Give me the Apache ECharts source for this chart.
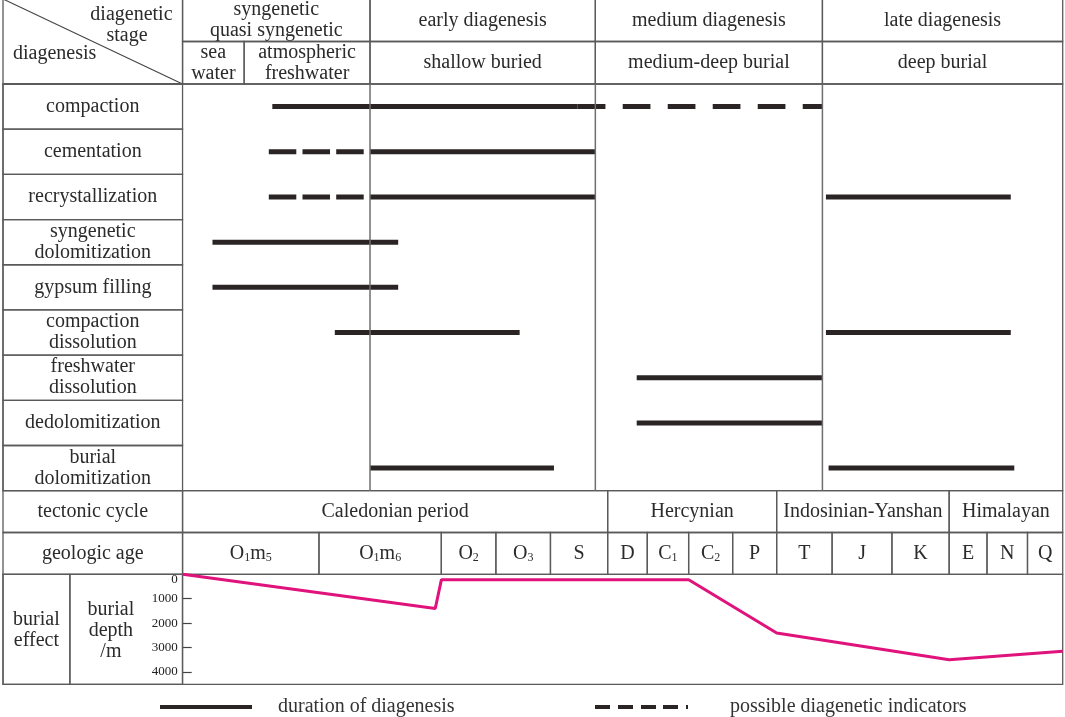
<!DOCTYPE html>
<html>
<head>
<meta charset="utf-8">
<script src="https://cdn.jsdelivr.net/npm/echarts@6/dist/echarts.min.js"></script>
<style>
  html, body { margin: 0; padding: 0; background: #fff; }
  #chart { width: 1065px; height: 717px; }
</style>
</head>
<body>
<div id="chart"></div>
<script>
// timeline runs 0..100 across the table; the label column sits left of 0
var LEFT = -20.4;
var DEPTH_MAX = 4500;

var stageBounds = [0, 21.3, 46.9, 72.7, 100];
var stages = ['syngenetic\nquasi syngenetic', 'early diagenesis', 'medium diagenesis', 'late diagenesis'];
var settingBounds = [0, 7.0, 21.3, 46.9, 72.7, 100];
var settings = ['sea\nwater', 'atmospheric\nfreshwater', 'shallow buried', 'medium-deep burial', 'deep burial'];

var processes = ['compaction', 'cementation', 'recrystallization', 'syngenetic\ndolomitization',
  'gypsum filling', 'compaction\ndissolution', 'freshwater\ndissolution', 'dedolomitization',
  'burial\ndolomitization'];

// [process index, start, end]
var durationSegs = [
  [0, 10.2, 44.9],
  [1, 21.3, 46.9],
  [2, 21.3, 46.9],
  [2, 73.1, 94.1],
  [3, 3.4, 24.5],
  [4, 3.4, 24.5],
  [5, 17.3, 38.3],
  [5, 73.1, 94.1],
  [6, 51.6, 72.7],
  [7, 51.6, 72.7],
  [8, 21.3, 42.2],
  [8, 73.4, 94.5]
];
var possibleSegs = [
  [0, 44.9, 72.7],
  [1, 9.8, 21.3],
  [2, 9.8, 21.3]
];

var tectonicBounds = [0, 48.3, 67.5, 87.1, 100];
var tectonics = ['Caledonian period', 'Hercynian', 'Indosinian-Yanshan', 'Himalayan'];
var ageBounds = [0, 15.5, 29.4, 35.6, 41.8, 48.3, 52.8, 57.5, 62.5, 67.5, 73.8, 80.6, 87.1, 91.4, 96.0, 100];
var ages = ['O1m5', 'O1m6', 'O2', 'O3', 'S', 'D', 'C1', 'C2', 'P', 'T', 'J', 'K', 'E', 'N', 'Q'];

var burialX = [0, 28.7, 29.4, 57.5, 67.5, 87.1, 100];
var burialDepth = [0, 1400, 220, 220, 2400, 3500, 3150];
var depthTicks = [0, 1000, 2000, 3000, 4000];

var burialLabels = [[LEFT, -12.8, 'burial\neffect'], [-12.8, 0, 'burial\ndepth\n/m']];

var FONT = '"Liberation Serif", "Times New Roman", serif';
var TEXT = '#2b2b2b';
var INK = '#2b2424';
var RULE = '#5a5a5a';

function sub(s) { return s.replace(/(\d)/g, '{s|$1}'); }

var headerCells = [];
stages.forEach(function (t, i) { headerCells.push([stageBounds[i], stageBounds[i + 1], 0, t]); });
settings.forEach(function (t, i) { headerCells.push([settingBounds[i], settingBounds[i + 1], 1, t]); });

var processCells = processes.map(function (p, i) { return [LEFT, 0, i, p]; });

var lowerCells = [[LEFT, 0, 0, 'tectonic cycle'], [LEFT, 0, 1, 'geologic age']];
tectonics.forEach(function (t, i) { lowerCells.push([tectonicBounds[i], tectonicBounds[i + 1], 0, t]); });
ages.forEach(function (t, i) { lowerCells.push([ageBounds[i], ageBounds[i + 1], 1, sub(t)]); });

function textStyle(txt, x, y, align) {
  return {
    text: txt, x: x, y: y, align: align || 'center', verticalAlign: 'middle',
    fontFamily: FONT, fontSize: 20, lineHeight: 21, fill: TEXT,
    rich: { s: { fontFamily: FONT, fontSize: 12, fill: TEXT, verticalAlign: 'bottom', lineHeight: 18 } }
  };
}

function cellSeries(idx, cells) {
  return {
    type: 'custom', xAxisIndex: idx, yAxisIndex: idx, silent: true, z: 2,
    data: cells.map(function (c) { return [c[0], c[1], c[2]]; }),
    encode: { x: [0, 1], y: 2 },
    renderItem: function (params, api) {
      var c = cells[params.dataIndex];
      var a = api.coord([c[0], c[2]]);
      var b = api.coord([c[1], c[2]]);
      var h = api.size([0, 1])[1];
      return {
        type: 'group',
        children: [
          { type: 'rect', shape: { x: a[0], y: a[1] - h / 2, width: b[0] - a[0], height: h },
            style: { fill: 'none', stroke: RULE, lineWidth: 1.3 } },
          { type: 'text', style: textStyle(c[3], (a[0] + b[0]) / 2, a[1]) }
        ]
      };
    }
  };
}

function segSeries(name, segs, dashed) {
  return {
    name: name, type: 'custom', xAxisIndex: 1, yAxisIndex: 1, silent: true, z: 4,
    itemStyle: { color: INK },
    data: segs,
    encode: { x: [1, 2], y: 0 },
    renderItem: function (params, api) {
      var row = api.value(0);
      var a = api.coord([api.value(1), row]);
      var b = api.coord([api.value(2), row]);
      var dash = null;
      if (dashed) dash = api.value(1) < stageBounds[1] ? [27.5, 6.2] : [27.7, 17.3];
      return {
        type: 'line',
        shape: { x1: a[0], y1: a[1], x2: b[0], y2: b[1] },
        style: { stroke: INK, lineWidth: 5, lineDash: dash, lineCap: 'butt' }
      };
    }
  };
}

var chart = echarts.init(document.getElementById('chart'));

// header starts just above the page edge: the table has no top rule
var grids = [
  { left: 3, right: 2.3, top: -1, height: 85 },
  { left: 3, right: 2.3, top: 84, height: 406.7, show: true, borderColor: RULE, borderWidth: 1.3 },
  { left: 3, right: 2.3, top: 490.7, height: 83.6 },
  { left: 3, right: 2.3, top: 574.3, height: 110, show: true, borderColor: RULE, borderWidth: 1.3 },
  { left: 182.7, right: 2.3, top: 574.3, height: 110 }
].map(function (g) { g.outerBoundsMode = 'none'; g.containLabel = false; return g; });

var xAxes = grids.map(function (g, i) {
  return { type: 'value', gridIndex: i, min: i === 4 ? 0 : LEFT, max: 100, show: false };
});

var yAxes = [
  { type: 'category', gridIndex: 0, data: ['stage', 'setting'], inverse: true, show: false },
  { type: 'category', gridIndex: 1, data: processes, inverse: true, show: false },
  { type: 'category', gridIndex: 2, data: ['tectonic', 'age'], inverse: true, show: false },
  { type: 'value', gridIndex: 3, min: 0, max: DEPTH_MAX, inverse: true, show: false },
  {
    type: 'value', gridIndex: 4, min: 0, max: DEPTH_MAX, interval: 1000, inverse: true,
    position: 'left',
    axisLine: { show: true, lineStyle: { color: RULE, width: 1.3 } },
    axisTick: { show: true, inside: true, length: 9, lineStyle: { color: '#444', width: 1.2 } },
    splitLine: { show: false },
    axisLabel: {
      show: true, showMaxLabel: false, showMinLabel: true, hideOverlap: false,
      margin: 5, fontFamily: FONT, fontSize: 13, color: '#222',
      formatter: function (v) { return v === 0 ? '{z|0}' : (depthTicks.indexOf(v) >= 0 ? String(v) : ''); },
      rich: { z: { fontFamily: FONT, fontSize: 13, color: '#222', padding: [10, 0, 0, 0] } }
    }
  }
];

var series = [
  // corner cell with diagonal
  {
    type: 'custom', xAxisIndex: 0, yAxisIndex: 0, silent: true, z: 2,
    data: [[LEFT, 0, 0]], encode: { x: [0, 1], y: 2 },
    renderItem: function (params, api) {
      var h = api.size([0, 1])[1];
      var tl = api.coord([LEFT, 0]);
      var br = api.coord([0, 1]);
      var x0 = tl[0], y0 = tl[1] - h / 2, x1 = br[0], y1 = br[1] + h / 2;
      return {
        type: 'group',
        children: [
          { type: 'rect', shape: { x: x0, y: y0, width: x1 - x0, height: y1 - y0 },
            style: { fill: 'none', stroke: RULE, lineWidth: 1.3 } },
          { type: 'line', shape: { x1: x0, y1: y0, x2: x1, y2: y1 },
            style: { stroke: '#444', lineWidth: 1.1 } },
          { type: 'text', style: textStyle('diagenetic', x1 - 10, y0 + 16, 'right') },
          { type: 'text', style: textStyle('stage', x0 + 124, y0 + 37) },
          { type: 'text', style: textStyle('diagenesis', x0 + 10, y0 + 55, 'left') }
        ]
      };
    }
  },
  cellSeries(0, headerCells),
  cellSeries(1, processCells),
  // stage dividers through the process rows
  {
    type: 'custom', xAxisIndex: 1, yAxisIndex: 1, silent: true, z: 5,
    data: stageBounds.slice(1, -1).map(function (v) { return [v, 0]; }),
    encode: { x: 0, y: 1 },
    renderItem: function (params, api) {
      var x = api.coord([api.value(0), 0])[0];
      var cs = params.coordSys;
      return { type: 'line', shape: { x1: x, y1: cs.y, x2: x, y2: cs.y + cs.height },
        style: { stroke: '#6e6e6e', lineWidth: 1.5 } };
    }
  },
  segSeries('duration of diagenesis', durationSegs, false),
  segSeries('possible diagenetic indicators', possibleSegs, true),
  cellSeries(2, lowerCells),
  // burial label cells
  {
    type: 'custom', xAxisIndex: 3, yAxisIndex: 3, silent: true, z: 2,
    data: burialLabels.map(function (d) { return [d[0], d[1]]; }),
    encode: { x: [0, 1] },
    renderItem: function (params, api) {
      var d = burialLabels[params.dataIndex];
      var a = api.coord([d[0], 0]);
      var b = api.coord([d[1], DEPTH_MAX]);
      // the depth caption sits left of the tick labels
      var cx = params.dataIndex === 0 ? (a[0] + b[0]) / 2 : a[0] + 41;
      return {
        type: 'group',
        children: [
          { type: 'rect', shape: { x: a[0], y: a[1], width: b[0] - a[0], height: b[1] - a[1] },
            style: { fill: 'none', stroke: RULE, lineWidth: 1.3 } },
          { type: 'text', style: textStyle(d[2], cx, (a[1] + b[1]) / 2 + 1) }
        ]
      };
    }
  },
  {
    type: 'line', xAxisIndex: 4, yAxisIndex: 4, silent: true, z: 6,
    data: burialX.map(function (x, i) { return [x, burialDepth[i]]; }),
    symbol: 'none',
    lineStyle: { color: '#e0127c', width: 3 }
  }
];

chart.setOption({
  animation: false,
  backgroundColor: '#fff',
  textStyle: { fontFamily: FONT },
  grid: grids,
  xAxis: xAxes,
  yAxis: yAxes,
  legend: [
    {
      left: 155, top: 692, selectedMode: false, itemWidth: 92, itemHeight: 4,
      data: [{ name: 'duration of diagenesis', icon: 'rect' }],
      textStyle: { fontFamily: FONT, fontSize: 20, color: '#333', padding: [0, 0, 0, 21] }
    },
    {
      left: 590, top: 692, selectedMode: false, itemWidth: 93, itemHeight: 4,
      data: [{
        name: 'possible diagenetic indicators',
        icon: 'path://M0,0h15v4h-15zM23,0h15v4h-15zM46,0h15v4h-15zM68,0h15v4h-15zM91,0h2v4h-2z'
      }],
      textStyle: { fontFamily: FONT, fontSize: 20, color: '#333', padding: [0, 0, 0, 37] }
    }
  ],
  series: series
});
</script>
</body>
</html>
